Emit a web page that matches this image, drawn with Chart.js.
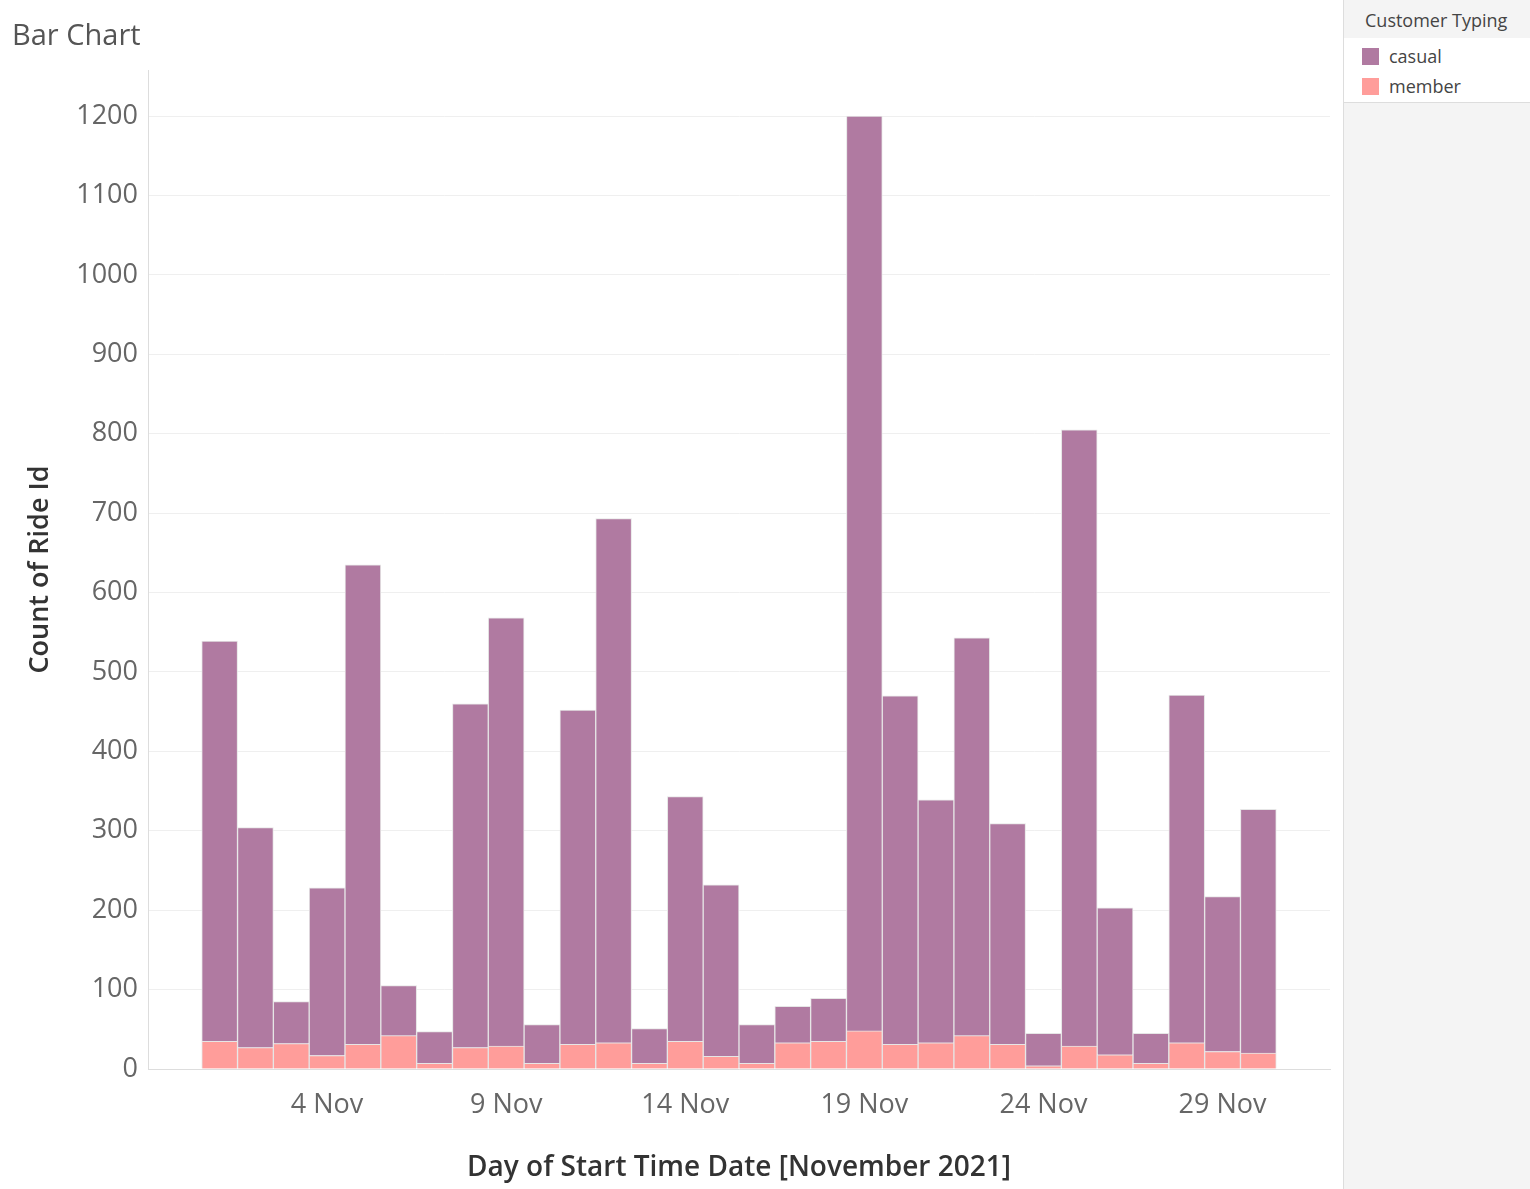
<!DOCTYPE html>
<html>
<head>
<meta charset="utf-8">
<script src="https://cdn.jsdelivr.net/npm/chart.js@4"></script>
<style>
  body { margin: 0; background: #fff; font-family: "Open Sans", sans-serif; }
  #wrap { position: absolute; left: 0; top: 0; width: 1340px; height: 1189px; }
  #title { position: absolute; left: 12px; top: 14px; font-size: 29px; color: #555; }
  #side { position: absolute; left: 1343px; top: 0; width: 187px; height: 1189px; background: #f4f4f4; border-left: 1px solid #ddd; }
  #legend { background: #fff; height: 102px; border-bottom: 1px solid #ddd; }
  #legend .hd { font-size: 18px; color: #444; padding: 8px 0 0 21px; height: 30px; background: #f4f4f4; }
  #legend .it { font-size: 18px; color: #444; padding: 6px 0 0 18px; display: flex; align-items: center; }
  #legend .sw { width: 17px; height: 17px; margin-right: 10px; }
</style>
</head>
<body>
<div id="wrap"><canvas id="c"></canvas></div>
<div id="title">Bar Chart</div>
<div id="side">
  <div id="legend">
    <div class="hd">Customer Typing</div>
    <div class="it"><span class="sw" style="background:#b07aa1"></span>casual</div>
    <div class="it"><span class="sw" style="background:#ff9d9a"></span>member</div>
  </div>
</div>
<script>
const days = [1,2,3,4,5,6,7,8,9,10,11,12,13,14,15,16,17,18,19,20,21,22,23,24,25,26,27,28,29,30];
const member = [35,27,32,17,31,42,7,27,29,7,31,33,7,35,16,7,33,35,48,31,33,42,31,4,29,18,7,33,22,20];
const casual = [504,277,53,211,604,63,40,433,539,49,421,660,44,308,216,49,46,54,1152,439,306,501,278,41,776,185,38,438,195,307];
const xTicks = [4,9,14,19,24,29];
const yTicks = [0,100,200,300,400,500,600,700,800,900,1000,1100,1200];

const toPts = arr => arr.map((v, i) => ({ x: days[i], y: v }));

new Chart(document.getElementById('c'), {
  type: 'bar',
  data: {
    datasets: [
      { label: 'member', data: toPts(member), backgroundColor: '#ff9d9a', borderColor: '#e6e6e6', borderWidth: 1 },
      { label: 'casual', data: toPts(casual), backgroundColor: '#b07aa1', borderColor: '#e6e6e6', borderWidth: 1 }
    ]
  },
  options: {
    responsive: true,
    maintainAspectRatio: false,
    animation: false,
    barPercentage: 1,
    categoryPercentage: 1,
    layout: { padding: { top: 70, right: 10, bottom: 0, left: 0 } },
    plugins: { legend: { display: false }, tooltip: { enabled: false } },
    scales: {
      x: {
        type: 'linear',
        stacked: true,
        offset: false,
        min: -1,
        max: 32,
        afterBuildTicks: s => { s.ticks = xTicks.map(v => ({ value: v })); },
        afterFit: s => { s.height = 120; },
        grid: { display: false, offset: false },
        border: { color: '#ddd' },
        ticks: { callback: v => v + ' Nov', font: { size: 27, family: 'Open Sans' }, color: '#666', maxRotation: 0, padding: 12 },
        title: { display: true, text: 'Day of Start Time Date [November 2021]', font: { size: 28, weight: '600', family: 'Open Sans' }, color: '#333', padding: { top: 4 } }
      },
      y: {
        stacked: true,
        min: 0,
        max: 1258,
        afterBuildTicks: s => { s.ticks = yTicks.map(v => ({ value: v })); },
        afterFit: s => { s.width = 148; },
        grid: { color: '#efefef', drawTicks: false },
        border: { color: '#ddd' },
        ticks: { callback: v => String(v), font: { size: 27, family: 'Open Sans' }, color: '#666', padding: 10 },
        title: { display: true, text: 'Count of Ride Id', font: { size: 27, weight: '600', family: 'Open Sans' }, color: '#333', padding: { top: 24, bottom: 0 } }
      }
    }
  }
});
</script>
</body>
</html>
